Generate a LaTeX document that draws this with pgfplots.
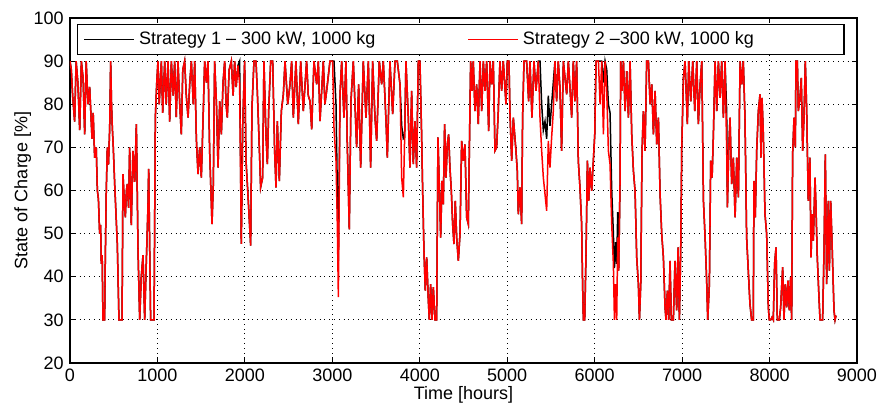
\documentclass[border=0pt]{standalone}
\usepackage{fontspec}
\setmainfont{Liberation Sans}
\usepackage{pgfplots}
\usepackage{pgfplotstable}
\pgfplotsset{compat=1.18}

% hourly state of charge (h = hour, r = strategy 2, b = strategy 1)
\pgfplotstableread{
h r b
0 90 90
15 88 88
30 82 82
53 76 76
70 90 90
90 85 85
111 74 74
130 90 90
150 86 86
168 73 73
185 90 90
206 80 80
225 84 84
252 72 72
265 78 78
282 67.6 67.6
300 70 70
313 60 60
325 58 58
339 50 50
350 52 52
358 43 43
368 45 45
377 30 30
396 30 30
404 44.5 44.5
415 60 60
427 70 70
440 66 66
454 74.6 74.6
465 90 90
475 80 80
484 74.6 74.6
495 70 70
511 61.5 61.5
525 55 55
541 47.6 47.6
560 30 30
595 30 30
606 63.8 63.8
620 58 58
633 53.8 53.8
645 60 60
656 61.5 61.5
670 56 56
682 70 70
701 52 52
720 69.2 69.2
740 62 62
759 75.4 75.4
778 46 46
797 30 30
815 40 40
835 45 45
854 30 30
873 43.7 43.7
890 55 55
900 65 65
922 30 30
961 30 30
976 76.9 76.9
991 84.6 84.6
1006 90 90
1020 80 80
1045 90 90
1060 78 78
1083 90 90
1100 80 80
1121 90 90
1140 76 76
1159 90 90
1180 82 82
1197 90 90
1215 77 77
1235 90 90
1255 80 80
1273 73 73
1290 88 88
1311 90 90
1330 82 82
1350 76.9 76.9
1370 85 85
1388 90 90
1410 80 80
1426 90 90
1445 72 72
1464 63.8 63.8
1483 70 70
1502 63 63
1521 76.1 76.1
1540 90 90
1560 85 85
1578 90 90
1597 69.2 69.2
1624 52.2 52.2
1639 61.5 61.5
1654 90 90
1675 80 80
1693 65.3 65.3
1712 80.7 80.7
1731 73 73
1750 85 85
1769 90 90
1785 80 80
1799 76.9 76.9
1820 88 88
1845 90 90
1865 82 82
1883 90 90
1900 84 84
1921 89 89
1940 84.6 90
1959 47.6 47.6
1975 75 75
1997 90 90
2013 66.9 66.9
2039 57.6 57.6
2066 47.2 47.2
2081 79.2 79.2
2104 90 90
2127 90 90
2142 83.1 83.1
2165 70 70
2180 60.7 60.7
2203 63 63
2218 90 90
2241 73 73
2257 66.1 66.1
2272 78.4 78.4
2295 90 90
2318 90 90
2340 69.2 69.2
2356 60.7 60.7
2371 76.1 76.1
2394 62.2 62.2
2417 78.4 78.4
2440 82.3 82.3
2459 90 90
2490 80 80
2516 84.6 84.6
2535 90 90
2554 76.9 76.9
2584 90 90
2611 75.4 75.4
2638 90 90
2668 78.4 78.4
2706 90 90
2725 82 82
2745 80.7 80.7
2764 74.2 74.2
2790 90 90
2821 84.6 84.6
2840 90 90
2859 76.1 76.1
2897 90 90
2915 80 80
2935 83.1 83.1
2973 90 90
3004 90 90
3019 74.6 90
3042 66.9 80
3057 52.2 60
3069 35.3 43.7
3088 82.3 82.3
3107 90 90
3133 76.9 76.9
3156 90 90
3171 70.7 70.7
3194 51 51
3213 80.7 80.7
3240 90 90
3278 70 70
3301 84.6 84.6
3324 65.3 65.3
3354 90 90
3385 76.9 76.9
3412 90 90
3438 65.3 65.3
3461 90 90
3488 76.9 76.9
3507 71.5 71.5
3537 90 90
3564 84.6 84.6
3583 90 90
3614 76.1 76.1
3629 67.6 67.6
3659 90 90
3690 77.7 77.7
3717 90 90
3743 90 90
3774 84.6 84.6
3793 63 75
3812 58.4 72
3827 72.3 72.3
3842 90 90
3869 76.9 76.9
3888 65.3 65.3
3907 83.1 83.1
3926 66.1 66.1
3945 76.1 76.1
3964 65.3 65.3
3983 90 90
4002 90 90
4021 73 73
4033 59.9 59.9
4048 46 46
4063 36.8 36.8
4079 44.5 44.5
4098 34.5 34.5
4109 30 30
4124 38.3 38.3
4140 30 30
4155 37.6 37.6
4174 30 30
4193 30 30
4208 72.3 72.3
4223 61.5 61.5
4239 49.1 49.1
4254 62.2 62.2
4269 56.8 56.8
4284 75.4 75.4
4300 63 63
4315 70.7 70.7
4330 73 73
4345 65.3 65.3
4361 59.9 59.9
4376 52.2 52.2
4391 47.6 47.6
4406 57.6 57.6
4422 49.1 49.1
4441 43.7 43.7
4460 49.9 49.9
4479 71.5 71.5
4498 66.9 66.9
4517 70.7 70.7
4536 53.8 53.8
4555 52.2 52.2
4567 69.2 69.2
4582 90 90
4597 83.1 83.1
4612 90 90
4631 78.4 78.4
4650 84.6 84.6
4669 75.4 75.4
4689 90 90
4708 78.4 78.4
4727 90 90
4746 83.1 83.1
4765 90 90
4788 73.8 73.8
4803 90 90
4822 84.6 84.6
4841 90 90
4860 69.2 69.2
4879 70 70
4898 78.4 78.4
4917 90 90
4936 83.1 83.1
4955 90 90
4986 80 80
5001 90 90
5020 90 90
5032 77.7 77.7
5051 66.9 66.9
5070 76.9 76.9
5100 69.2 69.2
5115 64.6 64.6
5127 54.5 54.5
5146 60.7 60.7
5165 52.2 52.2
5176 76.9 76.9
5192 90 90
5222 90 90
5245 80.7 80.7
5260 90 90
5283 76.9 76.9
5306 90 90
5329 83.1 83.1
5356 90 90
5375 76.9 90
5394 69.2 80
5413 63 74
5432 59.2 76
5451 55.3 72
5470 71.5 82
5489 65.3 75
5508 72.3 80
5527 78.4 85
5546 90 90
5565 80.7 80.7
5584 90 90
5603 83.8 83.8
5622 69.2 69.2
5642 90 90
5680 82.3 82.3
5699 90 90
5718 83.8 83.8
5737 76.9 76.9
5756 90 90
5775 80.7 80.7
5794 90 90
5813 66.9 66.9
5832 60.7 60.7
5851 52.2 52.2
5862 38.3 38.3
5871 30 30
5886 30 30
5902 46 46
5917 66.9 66.9
5932 57.6 57.6
5947 65.3 65.3
5966 59.9 59.9
5985 66.9 66.9
6001 73 73
6016 90 90
6043 90 90
6062 80 90
6081 90 90
6100 73 85
6119 90 90
6138 83.1 88
6157 69.2 80
6176 66.1 78
6195 52.2 60
6214 43 50
6226 30 42
6241 38.3 48
6252 30 43
6264 49.1 55
6275 41.4 41.4
6290 61.5 61.5
6298 90 90
6313 83.1 83.1
6329 90 90
6348 78.4 78.4
6367 87.7 87.7
6386 76.9 76.9
6405 90 90
6424 73 73
6443 64.6 64.6
6462 59.9 59.9
6481 44.5 44.5
6500 38.3 38.3
6512 30 30
6527 38.3 38.3
6542 69.2 69.2
6557 78.4 78.4
6576 69.2 69.2
6595 90 90
6615 90 90
6634 80 80
6653 84.6 84.6
6672 73 73
6691 83.1 83.1
6710 70.7 70.7
6729 76.9 76.9
6748 59.2 59.2
6767 49.9 49.9
6786 44.5 44.5
6805 32.9 32.9
6816 30 30
6832 36.8 36.8
6847 30 30
6862 43.7 43.7
6877 30 30
6900 30 30
6919 43.7 43.7
6938 32.2 32.2
6954 46.8 46.8
6969 30 30
6984 46 46
6996 70 70
7015 86.1 86.1
7034 90 90
7060 75.4 75.4
7076 90 90
7099 80.7 80.7
7122 90 90
7145 78.4 78.4
7168 90 90
7186 75.4 75.4
7206 84.6 84.6
7225 90 90
7244 57.6 57.6
7263 49.1 49.1
7282 38.3 38.3
7293 30 30
7312 38.3 38.3
7327 66.9 66.9
7343 63 63
7358 73 73
7377 90 90
7396 78.4 78.4
7415 90 90
7434 81.5 81.5
7453 90 90
7472 76.9 76.9
7491 90 90
7510 69.2 78
7518 56.1 56.1
7533 69.2 69.2
7548 76.9 76.9
7567 61.5 61.5
7586 67.6 67.6
7606 53.8 53.8
7625 67.6 67.6
7644 58.4 58.4
7663 90 90
7682 84.6 84.6
7700 90 90
7719 76.9 76.9
7738 49.1 49.1
7757 41.4 41.4
7776 33.7 33.7
7795 30 30
7814 30 30
7822 62.2 62.2
7837 53.8 53.8
7853 69.2 69.2
7872 78.4 78.4
7891 82.3 82.3
7902 67.6 67.6
7914 81.5 81.5
7929 73 73
7948 54.5 54.5
7967 49.9 49.9
7986 32.9 32.9
7997 30 30
8013 30 30
8028 30.6 30.6
8043 30 30
8058 43 43
8074 46.8 46.8
8089 30 30
8112 30 30
8127 32.9 32.9
8150 42.2 42.2
8165 30 30
8180 38.3 38.3
8196 32.9 32.9
8211 39.1 39.1
8226 32.2 32.2
8241 39.9 39.9
8253 30 30
8264 68.4 68.4
8280 76.9 76.9
8295 70 70
8302 90 90
8318 90 90
8329 78.4 78.4
8348 81.5 81.5
8363 86.1 86.1
8379 69.2 69.2
8394 76.9 76.9
8409 90 90
8424 79.2 79.2
8443 57.6 57.6
8462 67.6 67.6
8474 44.5 44.5
8489 54.5 54.5
8501 48.4 48.4
8520 63 63
8531 56.1 56.1
8546 44.5 44.5
8562 36.8 36.8
8577 30 30
8607 30 30
8623 46 46
8638 68.4 68.4
8653 38.3 38.3
8672 57.6 57.6
8684 41.4 41.4
8699 57.6 57.6
8714 48.4 48.4
8737 32.2 32.2
8749 30 30
8760 31 31
}\soc

\begin{document}
\fontsize{9}{10.8}\selectfont
\begin{tikzpicture}
\begin{axis}[
  scale only axis,
  width=393.5pt, height=172.5pt,
  xmin=0, xmax=9000, ymin=20, ymax=100,
  xtick={0,1000,...,9000},
  ytick={20,30,...,100},
  scaled x ticks=false,
  /pgf/number format/1000 sep={},
  /pgf/number format/assume math mode=true,
  tick align=inside,
  xtick pos=both, ytick pos=both,
  major tick length=2.5pt,
  every tick/.style={black, line width=0.5pt},
  grid=major,
  major grid style={dotted, black, line width=0.45pt},
  axis line style={line width=0.6pt},
  xlabel={Time [hours]},
  ylabel={State of Charge [\%]},
  xlabel style={yshift=4pt},
  ylabel style={yshift=-5pt},
  legend columns=2,
  legend cell align=left,
  legend image code/.code={\draw[#1] (0pt,0pt) -- (25pt,0pt);},
  legend style={at={(axis description cs:0.009,0.983)}, anchor=north west,
    draw=black, line width=0.6pt, inner xsep=3pt, inner ysep=1.5pt,
    font=\fontsize{9}{10.8}\selectfont},
]
\addplot[black, line width=0.75pt] table[x=h, y=b] {\soc};
\addlegendentry{Strategy 1 – 300 kW, 1000 kg\hspace*{44pt}}
\addplot[red, line width=0.75pt] table[x=h, y=r] {\soc};
\addlegendentry{Strategy 2 –300 kW, 1000 kg\hspace*{40pt}}
\end{axis}
\pgfresetboundingbox
\useasboundingbox (-35pt,-21pt) rectangle (403.5pt,181.5pt);
\end{tikzpicture}
\end{document}
